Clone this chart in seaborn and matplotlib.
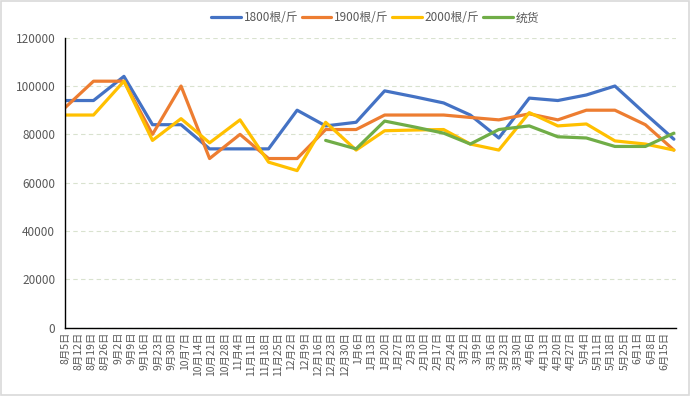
import pandas as pd
import numpy as np
import matplotlib
matplotlib.use("Agg")
import matplotlib.pyplot as plt
import seaborn as sns

# dados (datas: dia 5 e 20 de cada mes)
datas = ["2019-08-05", "2019-08-20", "2019-09-05", "2019-09-20", "2019-10-05", "2019-10-20",
         "2019-11-05", "2019-11-20", "2019-12-05", "2019-12-20", "2020-01-05", "2020-01-20",
         "2020-02-05", "2020-02-20", "2020-03-05", "2020-03-20", "2020-04-05", "2020-04-20",
         "2020-05-05", "2020-05-20", "2020-06-05", "2020-06-20"]

v1800 = [94000, 94000, 104000, 84000, 84000, 74000, 74000, 74000, 90000, 83500, 85000, 98000,
         95500, 93000, 88000, 78500, 95000, 94000, 96300, 100000, 88500, 78000]
v1900 = [91000, 102000, 102000, 80000, 100000, 70000, 80000, 70000, 70000, 82000, 82000, 88000,
         88000, 88000, 87000, 86000, 88500, 86000, 90000, 90000, 84000, 73500]
v2000 = [88000, 88000, 102000, 77500, 86500, 76500, 86000, 68500, 65000, 85000, 73500, 81500,
         81800, 82000, 76000, 73500, 89000, 83500, 84300, 77300, 76000, 73500]
tonghuo = [np.nan] * 9 + [77500, 74000, 85500, 83000, 80500, 76000, 82000, 83500, 79000,
                          78500, 75000, 75000, 80500]

series = ["1800根/斤", "1900根/斤", "2000根/斤", "统货"]
cores = ["#4472C4", "#ED7D31", "#FFC000", "#70AD47"]

df = pd.DataFrame({"Data": pd.to_datetime(datas),
                   series[0]: v1800, series[1]: v1900, series[2]: v2000, series[3]: tonghuo})
df_long = df.melt(id_vars="Data", var_name="Serie", value_name="Preco").dropna()

# ticks semanais do eixo x
ticks = pd.date_range("2019-08-05", "2020-06-15", freq="7D")
tick_labels = [f"{d.month}月{d.day}日" for d in ticks]

sns.set_style("white")
plt.rcParams["font.family"] = ["Noto Sans CJK SC", "DejaVu Sans"]

fig = plt.figure(figsize=(6.91, 3.98), dpi=100)
ax = fig.add_axes([0.094, 0.1766, 0.884, 0.7287])

sns.lineplot(data=df_long, x="Data", y="Preco", hue="Serie", hue_order=series,
             palette=cores, linewidth=2.3, ax=ax, sort=False)

ax.set_xlim(pd.Timestamp("2019-08-05"), pd.Timestamp("2020-06-21"))
ax.set_ylim(0, 120000)
ax.set_yticks(range(0, 120001, 20000))
ax.set_yticklabels([str(v) for v in range(0, 120001, 20000)])
ax.set_xticks(ticks)
ax.set_xticklabels(tick_labels, rotation=90, va="top", ha="center")

ax.grid(axis="y", color="#d9e2cf", linestyle=(0, (4, 3)), linewidth=0.8)
ax.grid(axis="x", visible=False)
for lado in ["top", "right"]:
    ax.spines[lado].set_visible(False)
for lado in ["left", "bottom"]:
    ax.spines[lado].set_color("black")
    ax.spines[lado].set_linewidth(1.0)

ax.tick_params(axis="x", direction="in", length=4, width=1, color="black",
               labelsize=7.5, labelcolor="#595959", pad=3)
ax.tick_params(axis="y", direction="in", length=4, width=1, color="black",
               labelsize=8.5, labelcolor="#595959", pad=7)
ax.set_xlabel("")
ax.set_ylabel("")

leg = ax.legend(loc="center", bbox_to_anchor=(0.543, 0.955), bbox_transform=fig.transFigure,
                ncol=4, frameon=False, fontsize=8.5, handlelength=2.5, handletextpad=0.25,
                columnspacing=0.3, borderpad=0.2)
for t in leg.get_texts():
    t.set_color("#595959")

# borda da area do grafico
fig.patches.append(plt.Rectangle((0.002, 0.008), 0.995, 0.99, transform=fig.transFigure,
                                 fill=False, edgecolor="#d9d9d9", linewidth=1.2))

fig.savefig("out.png", dpi=100)
